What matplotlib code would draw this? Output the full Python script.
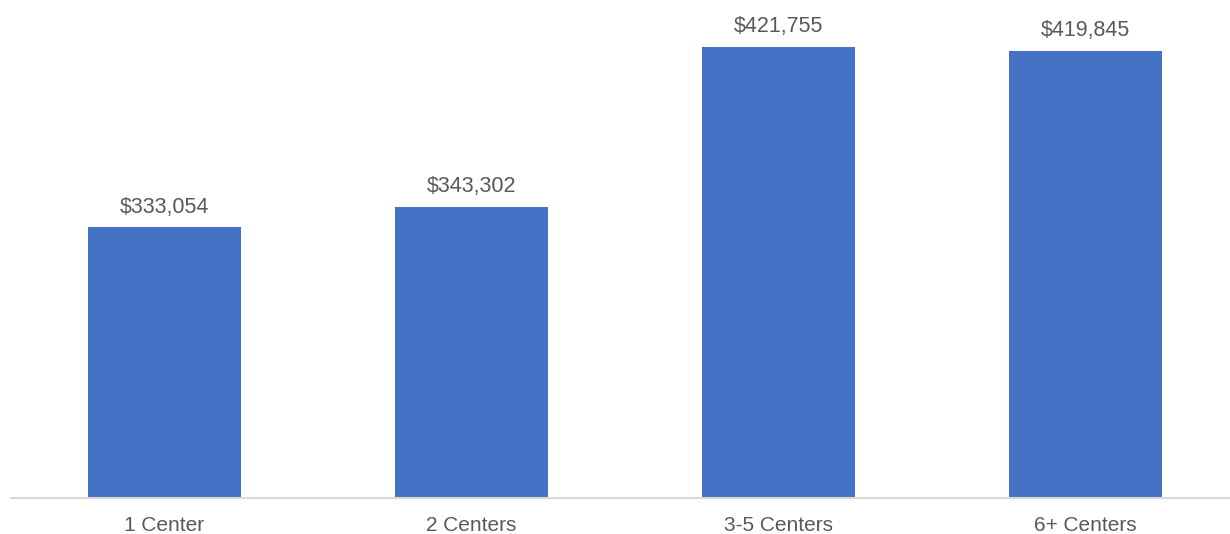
import matplotlib.pyplot as plt

plt.rcParams['font.family'] = ['Liberation Sans', 'DejaVu Sans']

categories = ['1 Center', '2 Centers', '3-5 Centers', '6+ Centers']
values = [333054, 343302, 421755, 419845]

BAR_COLOR = '#4472C4'
TEXT_COLOR = '#595959'

fig = plt.figure(figsize=(12.3, 5.34), dpi=100)
# axes: left edge at x=11px, baseline at y=498px, top at ~y=10px
ax = fig.add_axes([11 / 1230, (534 - 498) / 534, 1228 / 1230, 488 / 534])

x = range(len(categories))
bars = ax.bar(x, values, width=0.5, color=BAR_COLOR, zorder=2)

for b, v in zip(bars, values):
    ax.annotate(f'${v:,}', (b.get_x() + b.get_width() / 2, v),
                xytext=(0, 7), textcoords='offset points',
                ha='center', va='bottom', fontsize=15.5, color=TEXT_COLOR)

ax.set_xlim(-0.5, len(categories) - 0.5)
ax.set_ylim(200000, 440000)
ax.set_xticks(list(x))
ax.set_xticklabels(categories, fontsize=15, color=TEXT_COLOR)
ax.set_yticks([])
ax.tick_params(axis='x', length=0, pad=13)

for side in ['top', 'right', 'left']:
    ax.spines[side].set_visible(False)
ax.spines['bottom'].set_color('#D9D9D9')
ax.spines['bottom'].set_linewidth(1.5)

fig.savefig('out.png', dpi=100)
